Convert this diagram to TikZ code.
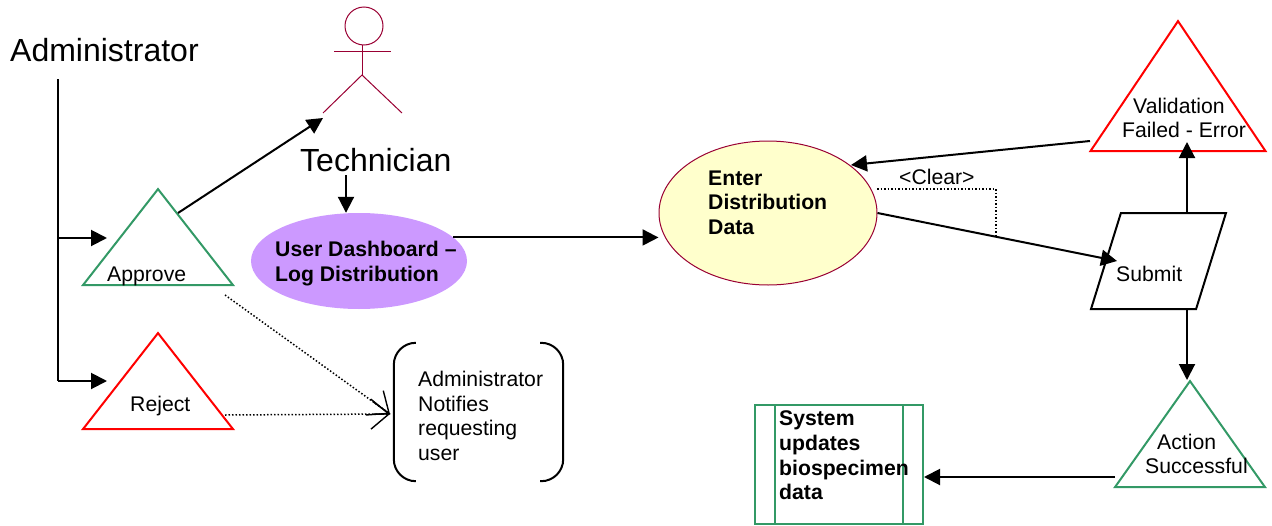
\documentclass[tikz,border=0pt]{standalone}
\usepackage{fontspec}
\setmainfont{Liberation Sans}
\usetikzlibrary{arrows.meta,shapes.geometric,calc}
\definecolor{okgreen}{HTML}{339966}
\definecolor{actorred}{HTML}{990033}
\definecolor{dashpurple}{HTML}{CC99FF}
\definecolor{enteryellow}{HTML}{FFFFCC}
\tikzset{
  flow/.style={line width=2pt,-{Triangle[length=16pt,width=16pt]}},
  dots/.style={line width=1.5pt,dash pattern=on 1.5pt off 2pt},
  tribox/.style={isosceles triangle,isosceles triangle stretches,shape border rotate=90,
    anchor=apex,inner sep=0pt,line width=2pt,minimum width=#1},
  label/.style={font=\fontsize{21.2}{24.6}\selectfont,inner sep=0pt,align=left,anchor=west},
  boldlabel/.style={label,font=\fontsize{21.2}{24.6}\selectfont\bfseries},
  biglabel/.style={font=\fontsize{32}{36}\selectfont,inner sep=0pt,anchor=base west},
  actorline/.style={draw=actorred,line width=1pt}
}
\begin{document}
\begin{tikzpicture}[x=1pt,y=-1pt]
\useasboundingbox (0,0) rectangle (1272,525);
\node[biglabel] (admin) at (10,61) {Administrator};
\node[biglabel] (tech) at (300,171) {Technician};
% actor
\node[circle,actorline,minimum size=38pt,inner sep=0pt] (head) at (364,26) {};
\coordinate (neck) at (362,45);
\coordinate (hip) at (362,75);
\coordinate (handl) at (334,51);
\coordinate (handr) at (391,51);
\coordinate (footl) at (323,113);
\coordinate (footr) at (402,113);
\draw[actorline] (neck) -- (hip);
\draw[actorline] (handl) -- (handr);
\draw[actorline] (footl) -- (hip) -- (footr);
% triangles
\node[tribox=150pt,minimum height=96pt,draw=okgreen] (approve) at (158,186.5) {};
\node[tribox=150pt,minimum height=96pt,draw=red] (reject) at (158,330.5) {};
\node[tribox=175pt,minimum height=130pt,draw=red] (validation) at (1178,18.5) {};
\node[tribox=150pt,minimum height=106pt,draw=okgreen] (action) at (1190,378.5) {};
\node[label] (approvetext) at (107,276) {Approve};
\node[label] (rejecttext) at (130,406) {Reject};
\node[label] (validationtext) at (1122,118) {\hspace*{11pt}Validation\\Failed - Error};
\node[label] (actiontext) at (1145,454) {\hspace*{12pt}Action\\Successful};
% other shapes
\node[ellipse,fill=dashpurple,minimum width=216pt,minimum height=96pt,inner sep=0pt] (dashboard) at (359,261) {};
\node[boldlabel] (dashboardtext) at (275,263.5) {User Dashboard --\\Log Distribution};
\node[ellipse,draw=actorred,line width=1pt,fill=enteryellow,minimum width=218pt,minimum height=144pt,inner sep=0pt] (enter) at (768,213) {};
\node[boldlabel] (entertext) at (708,202.5) {Enter\\Distribution\\Data};
\node[trapezium,trapezium left angle=69.4,trapezium right angle=110.6,trapezium stretches,draw,line width=2pt,
  minimum width=135pt,minimum height=96pt,inner sep=0pt] (submit) at (1158.5,261) {\phantom{x}};
\node[label] (submittext) at (1116,274) {Submit};
\node[minimum width=169pt,minimum height=138pt,inner sep=0pt] (notify) at (478.5,412) {};
\node[label] (notifytext) at (418,416) {Administrator\\Notifies\\requesting\\user};
\draw[line width=2pt,rounded corners=22pt] ([xshift=21pt]notify.north west) -- (notify.north west) -- (notify.south west) -- ([xshift=21pt]notify.south west);
\draw[line width=2pt,rounded corners=22pt] ([xshift=-23pt]notify.north east) -- (notify.north east) -- (notify.south east) -- ([xshift=-23pt]notify.south east);
\node[draw=okgreen,line width=2pt,minimum width=168pt,minimum height=119pt,inner sep=0pt] (system) at (839,464.5) {};
\foreach \x in {21,149} % inner lines
\draw[okgreen,line width=2pt] ([xshift=\x pt]system.north west) -- ([xshift=\x pt]system.south west);
\node[boldlabel] (systemtext) at (779,455.5) {System\\updates\\biospecimen\\data};
\node[label] (clear) at (899,177) {<Clear>};
% connectors
\coordinate (admintop) at (58,79);
\coordinate (approvein) at (107,238);
\coordinate (rejectin) at (107,381);
\draw[line width=2pt] (admintop) -- (admintop |- rejectin);
\draw[flow] (admintop |- approvein) -- (approvein);
\draw[flow] (admintop |- rejectin) -- (rejectin);
\coordinate (approveout) at (178,213);
\coordinate (actorin) at (323,118);
\draw[flow] (approveout) -- (actorin);
\coordinate (techout) at (346,175);
\draw[flow] (techout) -- (dashboard.north -| techout);
\draw[flow] (dashboard.14) -- (enter.west |- dashboard.14);
\coordinate (submitin) at (1117,261);
\draw[flow] (enter.east) -- (submitin);
\coordinate (validationout) at (1090,141);
\coordinate (enterin) at (851,165);
\draw[flow] (validationout) -- (enterin);
\coordinate (submittop) at (1187,213);
\coordinate (submitbot) at (1187,309);
\draw[flow] (submittop) -- (1187,142);
\draw[flow] (submitbot) -- (1187,380);
\coordinate (actionout) at (1115,477);
\draw[flow] (actionout) -- (system.east |- actionout);
\coordinate (clearout) at (877,189);
\coordinate (clearend) at (996,235);
\draw[dots] (clearout) -| (clearend);
\coordinate (approvedots) at (225,295);
\coordinate (rejectdots) at (225,415);
\coordinate (notifyin) at (390,414);
\draw[dots] (approvedots) -- (notifyin);
\draw[dots] (rejectdots) -- (notifyin);
\draw[line width=1.4pt,-{Straight Barb[length=18pt,width=30pt]}] ($(rejectdots)!0.9!(notifyin)$) -- (notifyin);
\draw[line width=1.4pt,-{Straight Barb[length=18pt,width=30pt]}] ($(approvedots)!0.9!(notifyin)$) -- (notifyin);
\end{tikzpicture}
\end{document}
